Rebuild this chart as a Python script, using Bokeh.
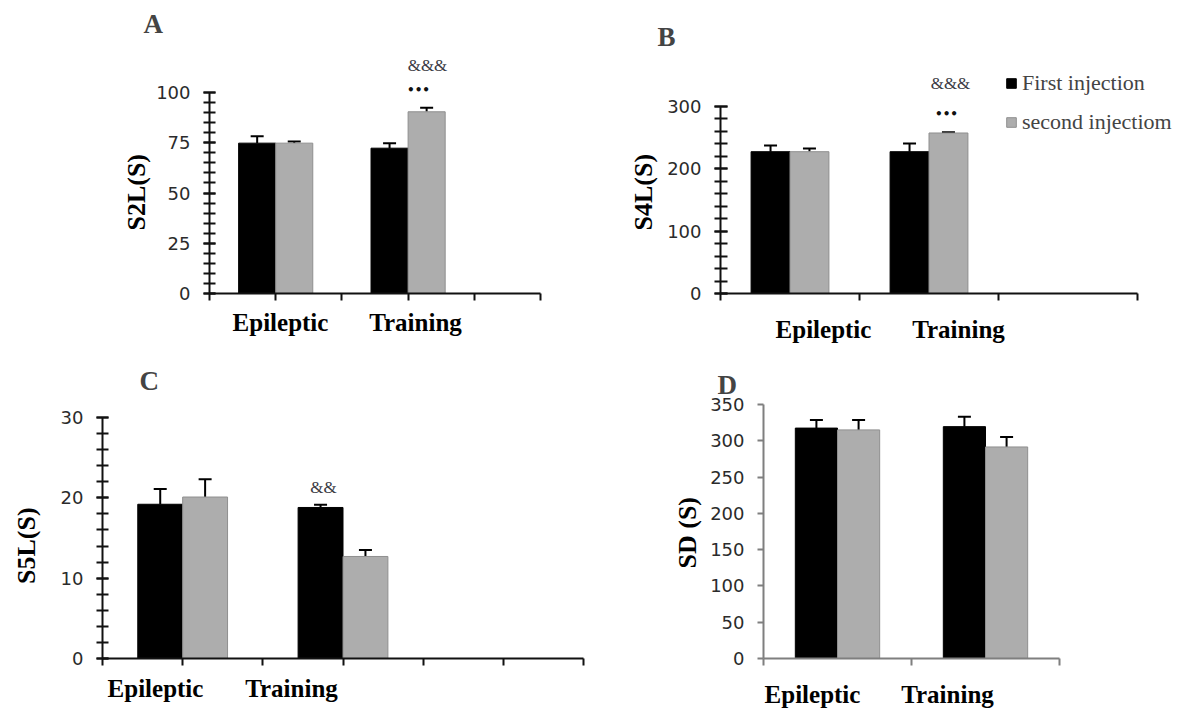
from bokeh.plotting import figure
from bokeh.models import (Range1d, FixedTicker, SingleIntervalTicker, Label, Whisker,
                          TeeHead, ColumnDataSource, Legend, LegendItem)
from bokeh.layouts import column, row
from bokeh.embed import file_html
from bokeh.resources import INLINE

# ---------------- data ----------------
groups = ["Epileptic", "Training"]
series = ["First injection", "second injectiom"]

A_first = [74.8, 72.3]
A_first_err = [3.4, 2.5]
A_second = [74.8, 90.4]
A_second_err = [0.8, 2.0]

B_first = [227.5, 227.5]
B_first_err = [10.0, 13.0]
B_second = [227.5, 257.5]
B_second_err = [5.0, 1.0]

C_first = [19.2, 18.8]
C_first_err = [1.9, 0.35]
C_second = [20.1, 12.7]
C_second_err = [2.2, 0.8]

D_first = [317.5, 319.5]
D_first_err = [11.3, 13.6]
D_second = [315.0, 291.5]
D_second_err = [13.6, 13.6]

# ---------------- styles ----------------
BLACK = "#000000"
GRAY = "#adadad"
GRAY_EDGE = "#8f8f8f"
SERIF = "Liberation Serif"
SANS = "DejaVu Sans"
TICK_COLOR = "#2b2b2b"
NBSP = "\u00a0"

# pixel geometry (picture coords). canvas=(x, y, w, h); x0/x1 = x-axis ends,
# y0 = pixel of zero, y1 = pixel of ymax; ftop/fright = frame top / right edge
panels = {
    "A": dict(canvas=(0, 0, 620, 355), x0=209, x1=540, y0=293, y1=92, ftop=45, fright=540,
              nslots=5, centers=[1, 3], bw=0.56, ymax=100, major=25, minor=5,
              axis_color="#111111", ytick_in=6, ylabel="S2L(S)", ylabel_pad=7, ylabel_standoff=2,
              title_left=143, title_standoff=13, cat_x=[280, 415], cat_standoff=8,
              first=A_first, first_err=A_first_err, second=A_second, second_err=A_second_err),
    "B": dict(canvas=(620, 0, 560, 355), x0=720, x1=1137, y0=293, y1=106, ftop=45, fright=1178,
              nslots=3, centers=[0.5, 1.5], bw=0.28, ymax=300, major=100, minor=5,
              axis_color="#111111", ytick_in=7, ylabel="S4L(S)", ylabel_pad=7, ylabel_standoff=6,
              title_left=657, title_standoff=-12, cat_x=[823, 958], cat_standoff=15,
              first=B_first, first_err=B_first_err, second=B_second, second_err=B_second_err),
    "C": dict(canvas=(0, 355, 665, 355), x0=102, x1=583, y0=658, y1=417, ftop=400, fright=583,
              nslots=6, centers=[1, 3], bw=0.56, ymax=30, major=10, minor=5,
              axis_color="#111111", ytick_in=6, ylabel="S5L(S)", ylabel_pad=5, ylabel_standoff=17,
              title_left=139, title_standoff=10, cat_x=[155, 291], cat_standoff=9,
              first=C_first, first_err=C_first_err, second=C_second, second_err=C_second_err),
    "D": dict(canvas=(665, 355, 515, 355), x0=763, x1=1059, y0=658, y1=404, ftop=400, fright=1059,
              nslots=2, centers=[0.5, 1.5], bw=0.285, ymax=350, major=50, minor=0,
              axis_color="#7f7f7f", ytick_in=0, ylabel="SD (S)", ylabel_pad=1, ylabel_standoff=5,
              title_left=717, title_standoff=2, cat_x=[812, 947], cat_standoff=15,
              first=D_first, first_err=D_first_err, second=D_second, second_err=D_second_err),
}


def dx(cfg, px):
    return (px - cfg["x0"]) / (cfg["x1"] - cfg["x0"]) * cfg["nslots"]


def dy(cfg, py):
    return (cfg["y0"] - py) / (cfg["y0"] - cfg["y1"]) * cfg["ymax"]


def add_text(p, cfg, text, px, py, size, font=SERIF, style="normal", color="#000000"):
    p.add_layout(Label(x=dx(cfg, px), y=dy(cfg, py), text=text, text_font=font,
                       text_font_size=f"{size}px", text_font_style=style, text_color=color,
                       text_align="center", text_baseline="middle"))


def make_panel(name):
    cfg = panels[name]
    cx, cy, w, h = cfg["canvas"]
    l, r, t, b = cfg["x0"], cfg["fright"], cfg["ftop"], cfg["y0"]
    p = figure(width=w, height=h, output_backend="svg", toolbar_location=None,
               x_range=Range1d(0, dx(cfg, r)), y_range=Range1d(0, dy(cfg, t)),
               min_border_left=l - cx, min_border_right=cx + w - r,
               min_border_top=t - cy, min_border_bottom=cy + h - b)
    p.outline_line_color = None
    p.grid.visible = False

    # panel letter as title
    p.title.text = name
    p.title.text_font = SERIF
    p.title.text_font_size = "27px"
    p.title.text_font_style = "bold"
    p.title.align = "left"
    p.title.offset = cfg["title_left"] - l
    p.title.standoff = cfg["title_standoff"]

    # x axis: slot tick marks as minor ticks, category names as major labels
    xa = p.xaxis[0]
    cat_ticks = [round(dx(cfg, v), 4) for v in cfg["cat_x"]]
    xa.ticker = FixedTicker(ticks=cat_ticks, minor_ticks=list(range(cfg["nslots"] + 1)))
    xa.major_label_overrides = {t_: g for t_, g in zip(cat_ticks, groups)}
    xa.bounds = (0, cfg["nslots"])
    xa.major_tick_line_color = None
    xa.major_tick_in = 0
    xa.major_tick_out = 0
    xa.minor_tick_in = 0
    xa.minor_tick_out = 7
    xa.minor_tick_line_color = cfg["axis_color"]
    xa.minor_tick_line_width = 2
    xa.axis_line_color = cfg["axis_color"]
    xa.axis_line_width = 2
    xa.major_label_text_font = SERIF
    xa.major_label_text_font_size = "25px"
    xa.major_label_text_font_style = "bold"
    xa.major_label_text_color = "#000000"
    xa.major_label_standoff = cfg["cat_standoff"]

    ya = p.yaxis[0]
    ya.ticker = SingleIntervalTicker(interval=cfg["major"], num_minor_ticks=cfg["minor"])
    ya.bounds = (0, cfg["ymax"])
    ya.axis_line_color = cfg["axis_color"]
    ya.major_tick_line_color = cfg["axis_color"]
    ya.axis_line_width = 2
    ya.major_tick_line_width = 2
    ya.major_tick_out = 6
    ya.major_tick_in = cfg["ytick_in"]
    if cfg["minor"]:
        ya.minor_tick_line_color = cfg["axis_color"]
        ya.minor_tick_line_width = 2
        ya.minor_tick_out = 6
        ya.minor_tick_in = cfg["ytick_in"]
    else:
        ya.minor_tick_line_color = None
    ya.major_label_text_font = SANS
    ya.major_label_text_font_size = "18px"
    ya.major_label_text_color = TICK_COLOR
    ya.major_label_standoff = 13
    ya.axis_label = cfg["ylabel"] + NBSP * cfg["ylabel_pad"]
    ya.axis_label_text_font = SERIF
    ya.axis_label_text_font_size = "26px"
    ya.axis_label_text_font_style = "bold"
    ya.axis_label_text_color = "#000000"
    ya.axis_label_standoff = cfg["ylabel_standoff"]

    off = cfg["bw"] / 2
    xs1 = [c - off for c in cfg["centers"]]
    xs2 = [c + off for c in cfg["centers"]]
    src1 = ColumnDataSource(dict(x=xs1, top=cfg["first"],
                                 up=[v + e for v, e in zip(cfg["first"], cfg["first_err"])]))
    src2 = ColumnDataSource(dict(x=xs2, top=cfg["second"],
                                 up=[v + e for v, e in zip(cfg["second"], cfg["second_err"])]))
    r1 = p.vbar(x="x", top="top", width=cfg["bw"], bottom=0, source=src1,
                fill_color=BLACK, line_color=BLACK, line_width=1)
    r2 = p.vbar(x="x", top="top", width=cfg["bw"], bottom=0, source=src2,
                fill_color=GRAY, line_color=GRAY_EDGE, line_width=1)
    for src in (src1, src2):
        p.add_layout(Whisker(base="x", lower="top", upper="up", source=src,
                             line_color="black", line_width=2,
                             upper_head=TeeHead(size=13, line_color="black", line_width=2),
                             lower_head=None))
    return p, r1, r2


pA, _, _ = make_panel("A")
pB, rb1, rb2 = make_panel("B")
pC, _, _ = make_panel("C")
pD, _, _ = make_panel("D")

SIG = "#3b3b44"
add_text(pA, panels["A"], "&&&", 427, 65, 17, color=SIG)
add_text(pA, panels["A"], "•••", 418, 89, 12, font=SANS, style="bold", color="#111111")
add_text(pB, panels["B"], "&&&", 950, 83, 17, color=SIG)
add_text(pB, panels["B"], "•••", 946, 113, 12, font=SANS, style="bold", color="#111111")
add_text(pC, panels["C"], "&&", 323, 487, 17, color=SIG)

# legend in panel B
cB = panels["B"]
legend = Legend(items=[LegendItem(label=series[0], renderers=[rb1]),
                       LegendItem(label=series[1], renderers=[rb2])],
                location=(1005 - cB["x0"], (cB["y0"] - 72) - 63),
                glyph_width=12, glyph_height=12, label_standoff=5, spacing=13,
                padding=0, margin=0, border_line_color=None, background_fill_alpha=0,
                label_text_font=SERIF, label_text_font_size="22px", label_height=25)
pB.add_layout(legend)

layout = column(row(pA, pB), row(pC, pD))
open("out.html", "w").write(file_html(layout, INLINE))
